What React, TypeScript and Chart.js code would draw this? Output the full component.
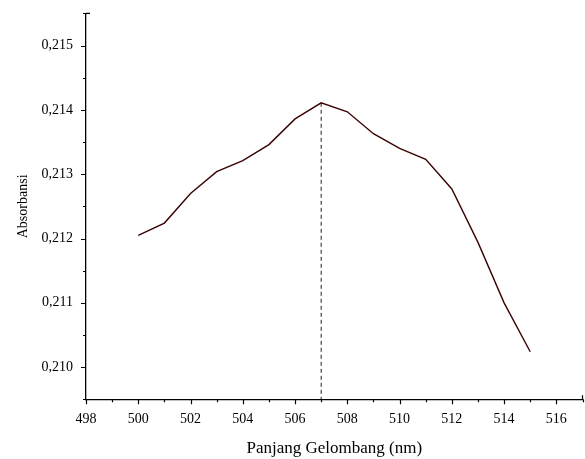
import React, { useEffect, useRef } from "react";
import { Chart, registerables } from "chart.js";

Chart.register(...registerables);

const wavelengths = [500, 501, 502, 503, 504, 505, 506, 507, 508, 509, 510, 511, 512, 513, 514, 515];
const absorbance = [
  0.21205, 0.21224, 0.21270, 0.21304, 0.21321, 0.21346, 0.21386, 0.21411,
  0.21397, 0.21363, 0.21340, 0.21323, 0.21277, 0.21194, 0.21100, 0.21024,
];
const peakWavelength = 507;
const peakAbsorbance = 0.21411;
const xTicks = [498, 500, 502, 504, 506, 508, 510, 512, 514, 516];
const yTicks = [0.21, 0.211, 0.212, 0.213, 0.214, 0.215];
const xMin = 498;
const xMax = 517;
const yMin = 0.2095;
const yMax = 0.2155;

const tickMarks = {
  id: "tickMarks",
  afterDraw(chart: any) {
    const ctx = chart.ctx;
    const xs = chart.scales.x;
    const ys = chart.scales.y;
    const area = chart.chartArea;
    ctx.save();
    ctx.strokeStyle = "#000";
    ctx.lineWidth = 1.2;
    ctx.beginPath();
    for (let v = xMin; v <= xMax; v++) {
      const px = Math.round(xs.getPixelForValue(v)) + 0.5;
      const len = v % 2 === 0 ? 5 : 3;
      ctx.moveTo(px, area.bottom);
      ctx.lineTo(px, area.bottom + len);
    }
    const ex = xs.getPixelForValue(xMax);
    ctx.moveTo(ex, area.bottom);
    ctx.lineTo(ex, area.bottom - 4);
    for (let i = 0; i <= 12; i++) {
      const v = yMin + i * 0.0005;
      const py = Math.round(ys.getPixelForValue(v)) + 0.5;
      const len = i % 2 === 1 ? 5 : 3;
      ctx.moveTo(area.left, py);
      ctx.lineTo(area.left - len, py);
    }
    const ey = ys.getPixelForValue(yMax);
    ctx.moveTo(area.left, ey);
    ctx.lineTo(area.left + 4, ey);
    ctx.stroke();
    ctx.restore();
  },
};

export default function App() {
  const ref = useRef<HTMLCanvasElement>(null);
  useEffect(() => {
    document.body.style.margin = "0";
    const chart = new Chart(ref.current!, {
      type: "line",
      data: {
        datasets: [
          {
            data: wavelengths.map((w, i) => ({ x: w, y: absorbance[i] })),
            borderColor: "#3a0303",
            borderWidth: 1.4,
            pointRadius: 0,
            tension: 0,
          },
          {
            data: [
              { x: peakWavelength, y: peakAbsorbance },
              { x: peakWavelength, y: yMin },
            ],
            borderColor: "#222",
            borderWidth: 1,
            borderDash: [4, 3],
            pointRadius: 0,
          },
        ],
      },
      options: {
        animation: false,
        responsive: false,
        layout: { padding: { top: 10, right: 2.5, left: 0, bottom: 0 } },
        plugins: { legend: { display: false }, tooltip: { enabled: false } },
        scales: {
          x: {
            type: "linear",
            min: xMin,
            max: xMax,
            grid: { display: false },
            border: { display: true, color: "#000", width: 1.3 },
            afterBuildTicks: (s: any) => {
              s.ticks = xTicks.map((v) => ({ value: v }));
            },
            ticks: {
              color: "#000",
              padding: 4,
              maxRotation: 0,
              autoSkip: false,
              font: { family: "Liberation Serif", size: 14 },
            },
            title: {
              display: true,
              text: "Panjang Gelombang (nm)",
              color: "#000",
              font: { family: "Liberation Serif", size: 17 },
              padding: { top: 4, bottom: 0 },
            },
            afterFit: (s: any) => {
              s.height = 59.7;
            },
          },
          y: {
            type: "linear",
            min: yMin,
            max: yMax,
            grid: { display: false },
            border: { display: true, color: "#000", width: 1.3 },
            afterBuildTicks: (s: any) => {
              s.ticks = yTicks.map((v) => ({ value: v }));
            },
            ticks: {
              color: "#000",
              padding: 5,
              autoSkip: false,
              font: { family: "Liberation Serif", size: 14 },
              callback: (v: any) => Number(v).toFixed(3).replace(".", ","),
            },
            title: {
              display: true,
              text: "Absorbansi",
              color: "#000",
              font: { family: "Liberation Serif", size: 14 },
              padding: { top: 14.5, bottom: 4 },
            },
            afterFit: (s: any) => {
              s.width = 86;
            },
          },
        },
      },
      plugins: [tickMarks],
    });
    return () => chart.destroy();
  }, []);
  return (
    <div style={{ width: 585, height: 459 }}>
      <canvas ref={ref} width={585} height={459} style={{ display: "block" }} />
    </div>
  );
}
